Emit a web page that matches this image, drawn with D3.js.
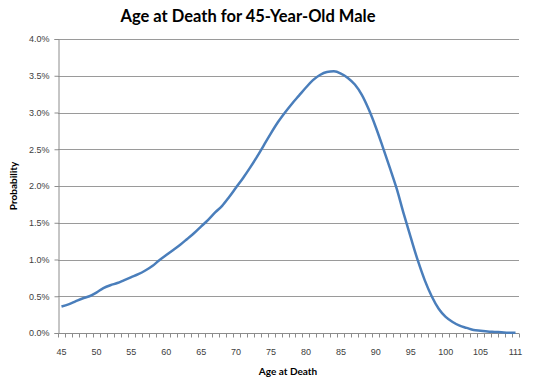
<!DOCTYPE html>
<html>
<head>
<meta charset="utf-8">
<script src="https://cdn.jsdelivr.net/npm/d3@7"></script>
<style>
  body { margin: 0; background: #fff; }
  svg { font-family: Lato, "Liberation Sans", sans-serif; }
</style>
</head>
<body>
<div id="chart"></div>
<script>
const ages = ["45","46","47","48","49","50","51","52","53","54","55","56","57","58","59",
    "60","61","62","63","64","65","66","67","68","69","70","71","72","73","74",
    "75","76","77","78","79","80","81","82","83","84","85","86","87","88","89",
    "90","91","92","93","94","95","96","97","98","99","100","101","102","103","104",
    "105","106","107","108","109","111"];

// probability of death at each age, in percent
const probability = [0.36, 0.39, 0.43, 0.47, 0.50, 0.55, 0.61, 0.65, 0.68, 0.72,
    0.76, 0.80, 0.85, 0.91, 0.99, 1.06, 1.13, 1.20, 1.28, 1.36,
    1.45, 1.54, 1.64, 1.73, 1.85, 1.98, 2.11, 2.25, 2.40, 2.56,
    2.72, 2.87, 3.00, 3.12, 3.23, 3.34, 3.44, 3.51, 3.55, 3.56,
    3.53, 3.47, 3.38, 3.24, 3.04, 2.80, 2.53, 2.25, 1.96, 1.62,
    1.30, 0.99, 0.72, 0.50, 0.33, 0.22, 0.15, 0.10, 0.07, 0.04,
    0.03, 0.02, 0.015, 0.01, 0.005, 0.003];

const yTicks = [0, 0.5, 1.0, 1.5, 2.0, 2.5, 3.0, 3.5, 4.0];

const W = 553, H = 388;
const margin = { top: 39, right: 34, bottom: 55, left: 58 };

const svg = d3.select("#chart").append("svg")
    .attr("width", W)
    .attr("height", H);

const x = d3.scaleBand()
    .domain(ages)
    .range([margin.left, W - margin.right])
    .padding(0);

const y = d3.scaleLinear()
    .domain([0, 4])
    .range([H - margin.bottom, margin.top]);

// gridlines
svg.append("g")
    .selectAll("line")
    .data(yTicks.filter(d => d > 0))
    .enter().append("line")
    .attr("x1", margin.left)
    .attr("x2", W - margin.right)
    .attr("y1", d => Math.round(y(d)) + 0.5)
    .attr("y2", d => Math.round(y(d)) + 0.5)
    .attr("stroke", "#9a9a9a")
    .attr("stroke-width", 1);

// y axis
const yAxis = svg.append("g")
    .attr("transform", `translate(${margin.left + 0.5},0)`)
    .call(d3.axisLeft(y).tickValues(yTicks).tickSize(4).tickPadding(5)
        .tickFormat(d => d.toFixed(1) + "%"));
yAxis.select(".domain").attr("stroke", "#8c8c8c");
yAxis.selectAll(".tick line").attr("stroke", "#8c8c8c");
yAxis.selectAll("text")
    .attr("font-size", 9)
    .attr("font-family", "Liberation Sans, sans-serif")
    .attr("fill", "#404040");

// x axis: ticks between categories, labels every 5th category
const xAxisY = Math.round(y(0)) + 0.5;
const xg = svg.append("g");
xg.append("line")
    .attr("x1", margin.left)
    .attr("x2", W - margin.right)
    .attr("y1", xAxisY)
    .attr("y2", xAxisY)
    .attr("stroke", "#8c8c8c");
xg.selectAll(".tk")
    .data(ages.concat(["end"]))
    .enter().append("line")
    .attr("class", "tk")
    .attr("x1", (d, i) => Math.round(margin.left + i * x.bandwidth()) + 0.5)
    .attr("x2", (d, i) => Math.round(margin.left + i * x.bandwidth()) + 0.5)
    .attr("y1", xAxisY)
    .attr("y2", xAxisY + 4)
    .attr("stroke", "#8c8c8c");
xg.selectAll(".lbl")
    .data(ages.filter((d, i) => i % 5 === 0))
    .enter().append("text")
    .attr("class", "lbl")
    .attr("x", d => x(d) + x.bandwidth() / 2)
    .attr("y", xAxisY + 21)
    .attr("text-anchor", "middle")
    .attr("font-size", 9)
    .attr("font-family", "Liberation Sans, sans-serif")
    .attr("fill", "#404040")
    .text(d => d);

// the curve
const line = d3.line()
    .x((d, i) => x(ages[i]) + x.bandwidth() / 2)
    .y(d => y(d))
    .curve(d3.curveMonotoneX);

svg.append("path")
    .datum(probability)
    .attr("d", line)
    .attr("fill", "none")
    .attr("stroke", "#4a7ebb")
    .attr("stroke-width", 2.5)
    .attr("stroke-linejoin", "round");

// title and axis titles
svg.append("text")
    .attr("x", 248)
    .attr("y", 22)
    .attr("text-anchor", "middle")
    .attr("font-size", 16.5)
    .attr("font-weight", "bold")
    .attr("fill", "#000")
    .text("Age at Death for 45-Year-Old Male");

svg.append("text")
    .attr("x", 288)
    .attr("y", 375)
    .attr("text-anchor", "middle")
    .attr("font-size", 10)
    .attr("font-weight", "bold")
    .attr("fill", "#000")
    .text("Age at Death");

svg.append("text")
    .attr("transform", `translate(17,${(margin.top + H - margin.bottom) / 2}) rotate(-90)`)
    .attr("text-anchor", "middle")
    .attr("font-size", 10)
    .attr("font-weight", "bold")
    .attr("fill", "#000")
    .text("Probability");
</script>
</body>
</html>
